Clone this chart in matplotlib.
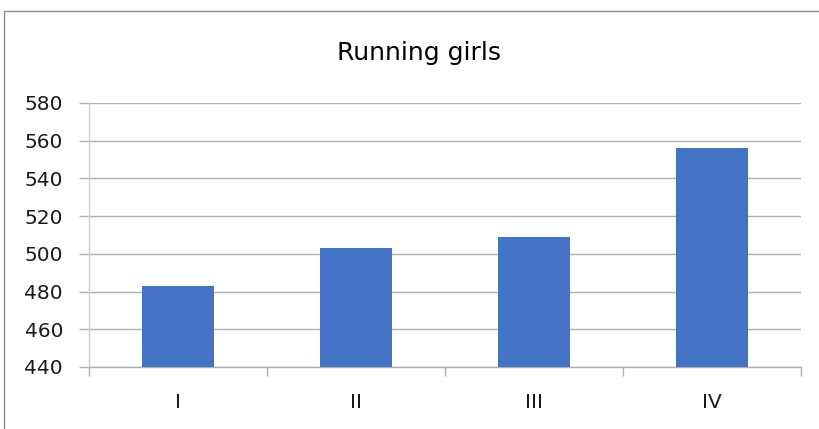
import matplotlib
matplotlib.use("Agg")
import matplotlib.pyplot as plt
from matplotlib.patches import Rectangle
from matplotlib.ticker import FixedLocator

categories = ["I", "II", "III", "IV"]
values = [483, 503, 509, 556]
y_ticks = [440, 460, 480, 500, 520, 540, 560, 580]
title = "Running girls"

bar_color = "#4472C4"
grid_color = "#B0B0B0"
text_color = "#1a1a1a"

fig = plt.figure(figsize=(8.19, 4.29), dpi=100)
fig.patch.set_facecolor("white")

# outer chart frame
fig.patches.append(Rectangle((4 / 819, -0.05), 1.2, 1 - 11 / 429 + 0.05,
                             transform=fig.transFigure, fill=False,
                             edgecolor="#8c8c8c", linewidth=1.0))

ax = fig.add_axes([89 / 819, 1 - 367 / 429, (801 - 89) / 819, (367 - 103) / 429])
x = list(range(len(categories)))
ax.bar(x, values, width=0.41, color=bar_color, zorder=3)

ax.set_xlim(-0.5, len(categories) - 0.5)
ax.set_ylim(y_ticks[0], y_ticks[-1])
ax.set_yticks(y_ticks)
ax.set_xticks(x)
ax.set_xticklabels(categories)
ax.xaxis.set_minor_locator(FixedLocator([i - 0.5 for i in range(len(categories) + 1)]))

ax.grid(axis="y", color=grid_color, linewidth=1.0, zorder=0)
for side in ("top", "right"):
    ax.spines[side].set_visible(False)
ax.spines["left"].set_color("#D0D0D0")
ax.spines["left"].set_linewidth(1.0)
ax.spines["bottom"].set_color(grid_color)
ax.spines["bottom"].set_linewidth(1.0)

ax.tick_params(axis="y", length=7.2, width=1.0, color=grid_color, pad=11.5,
               labelsize=14.5, labelcolor=text_color)
ax.tick_params(axis="x", which="major", length=0, pad=18.5,
               labelsize=14.5, labelcolor=text_color)
ax.tick_params(axis="x", which="minor", length=6.5, width=1.0, color=grid_color)

fig.text(0.512, 1 - 53 / 429, title, ha="center", va="center", fontsize=18,
         color="black", family=["DejaVu Sans"])

fig.savefig("out.png", dpi=100)
